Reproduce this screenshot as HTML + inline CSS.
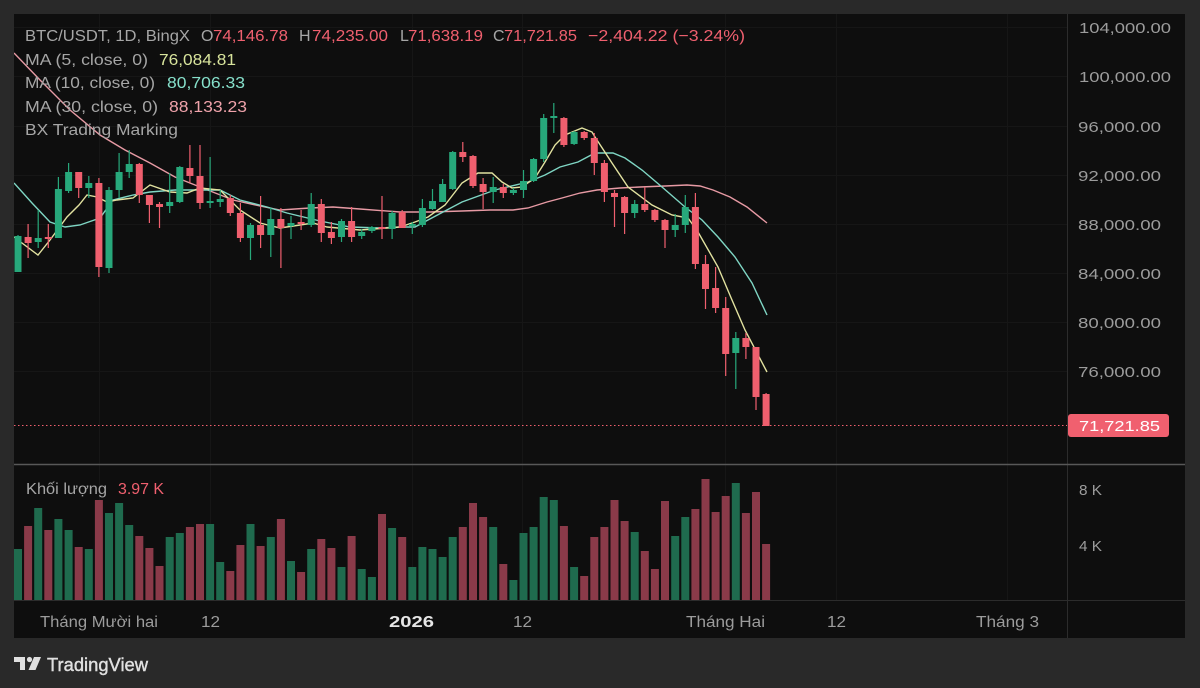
<!DOCTYPE html>
<html><head><meta charset="utf-8"><style>
html,body{margin:0;padding:0;background:#292929;}
svg{display:block;}
text{font-family:"Liberation Sans","Noto Sans CJK JP",sans-serif;}
</style></head><body>
<svg width="1200" height="688" viewBox="0 0 1200 688" xmlns="http://www.w3.org/2000/svg">
<rect x="0" y="0" width="1200" height="688" fill="#292929"/>
<rect x="14" y="14" width="1171" height="624" fill="#0e0e0e"/>
<defs><clipPath id="pc"><rect x="14" y="14" width="1053" height="450"/></clipPath>
<clipPath id="vc"><rect x="14" y="466" width="1053" height="134"/></clipPath></defs>
<!-- faint grid -->
<g stroke="#161616" stroke-width="1">
<path d="M99.5 14V600M210.5 14V600M412.5 14V600M522.5 14V600M725.5 14V600M836.5 14V600M1007.5 14V600"/>
<path d="M14 27.5H1067M14 76.5H1067M14 126.5H1067M14 175.5H1067M14 224.5H1067M14 273.5H1067M14 322.5H1067M14 371.5H1067"/>
</g>
<!-- axis separators -->
<line x1="1067.5" y1="14" x2="1067.5" y2="638" stroke="#2c2c2c" stroke-width="1"/>
<line x1="14" y1="600.5" x2="1185" y2="600.5" stroke="#2c2c2c" stroke-width="1"/>
<line x1="14" y1="464.5" x2="1185" y2="464.5" stroke="#585858" stroke-width="1.5"/>

<g clip-path="url(#pc)">
<!-- MA30 -->
<polyline fill="none" stroke="#e79aa4" stroke-width="1.4" points="14,53 40,80 70,110 100,135 125,150 150,163 175,177 200,187 233,200 260,206 280,210 310,208 333,207 360,209 400,212 430,212 462,211 490,210 513,210 528,208 547,202 562,198 580,193 597,190 620,188 640,187 665,186 687,185 700,186 713,190 730,197 747,207 767,223"/>
<!-- MA10 -->
<polyline fill="none" stroke="#7fd6c4" stroke-width="1.4" points="14,183 32,203 50,222 65,227 80,225 100,218 113,200 133,195 150,192 175,190 200,190 220,190 240,200 267,207 287,213 320,221 350,227 380,228 400,227 415,227 428,220 445,211 462,202 495,190 528,182 545,175 560,167 578,162 595,153 605,153 613,153 625,158 642,170 662,187 685,207 702,220 718,237 735,257 752,283 767,315"/>
<!-- MA5 -->
<polyline fill="none" stroke="#e2e2a0" stroke-width="1.4" points="14,237 38,255 50,240 67,217 79,205 87,195 97,197 107,202 117,200 133,198 150,185 170,192 187,193 200,188 220,190 240,210 260,223 280,228 300,225 313,223 327,227 360,230 387,228 400,227 415,222 428,217 445,205 462,183 478,173 492,173 502,182 512,188 522,187 535,178 545,162 555,145 565,135 582,128 592,132 595,137 612,163 628,187 652,205 672,215 688,218 698,232 718,267 732,300 745,330 767,372"/>

<!-- green candles -->
<path stroke="#27a87b" stroke-width="1.2" fill="none" d="M18 235V272M38.2 210V248M58.4 177V238M68.6 163V193M88.8 176V198M109 187V273M119.1 153V198M129.2 150V178M169.7 173V213M179.8 166V203M210.1 157V208M220.2 190V207M250.5 223V260M270.8 208V257M291 216V239M311.2 193V227M341.5 219V242M361.7 229V239M371.9 226V233M392.1 211V239M412.3 222V234M422.4 199V227M432.5 189V210M442.6 179V202M452.7 151V190M493.2 177V203M513.4 188V195M523.5 170V198M533.6 158V182M543.7 114V162M553.8 103V133M574.1 131V145M634.7 200V218M675.2 214V237M685.3 195V233M735.8 332V389"/>
<g fill="#27a87b">
<rect x="14.5" y="236" width="7" height="36"/><rect x="34.7" y="238" width="7" height="4"/><rect x="54.9" y="189" width="7" height="49"/><rect x="65.1" y="172" width="7" height="19"/><rect x="85.3" y="183" width="7" height="5"/><rect x="105.5" y="190" width="7" height="78"/><rect x="115.6" y="172" width="7" height="18"/><rect x="125.7" y="164" width="7" height="8"/><rect x="166.2" y="202" width="7" height="4"/><rect x="176.3" y="167" width="7" height="35"/><rect x="206.6" y="201" width="7" height="2"/><rect x="216.7" y="199" width="7" height="3"/><rect x="247" y="225" width="7" height="13"/><rect x="267.3" y="219" width="7" height="16"/><rect x="287.5" y="223" width="7" height="3"/><rect x="307.7" y="204" width="7" height="21"/><rect x="338" y="221" width="7" height="16"/><rect x="358.2" y="232" width="7" height="4"/><rect x="368.4" y="227" width="7" height="4"/><rect x="388.6" y="213" width="7" height="16"/><rect x="408.8" y="224" width="7" height="2"/><rect x="418.9" y="208" width="7" height="17"/><rect x="429" y="201" width="7" height="8"/><rect x="439.1" y="184" width="7" height="18"/><rect x="449.2" y="152" width="7" height="37"/><rect x="489.7" y="187" width="7" height="5"/><rect x="509.9" y="190" width="7" height="3"/><rect x="520" y="181" width="7" height="9"/><rect x="530.1" y="159" width="7" height="22"/><rect x="540.2" y="118" width="7" height="41"/><rect x="550.3" y="116" width="7" height="2"/><rect x="570.6" y="132" width="7" height="12"/><rect x="631.2" y="204" width="7" height="9"/><rect x="671.7" y="225" width="7" height="5"/><rect x="681.8" y="207" width="7" height="18"/><rect x="732.3" y="338" width="7" height="15"/>
</g>
<!-- red candles -->
<path stroke="#ef5f6e" stroke-width="1.2" fill="none" d="M28.1 224V258M48.3 224V248M78.7 172V198M98.9 178V277M139.3 163V203M149.4 195V223M159.5 202V228M189.9 145V183M200 145V209M230.3 195V216M240.4 203V242M260.6 196V248M280.9 208V268M301.1 210V230M321.3 199V242M331.4 222V244M351.6 207V242M382 196V239M402.2 210V228M462.8 142V162M473 155V188M483.1 178V209M503.3 184V198M563.9 117V147M584.2 131V140M594.3 133V175M604.4 160V202M614.5 190V227M624.6 196V234M644.8 187V212M654.9 209V222M665 219V248M695.4 193V269M705.5 255V309M715.6 267V313M725.7 297V376M745.9 333V359M756 347V410M766.1 393V426"/>
<g fill="#ef5f6e">
<rect x="24.6" y="237" width="7" height="6"/><rect x="44.8" y="237" width="7" height="2"/><rect x="75.2" y="172" width="7" height="16"/><rect x="95.4" y="183" width="7" height="84"/><rect x="135.8" y="164" width="7" height="31"/><rect x="145.9" y="195" width="7" height="10"/><rect x="156" y="204" width="7" height="3"/><rect x="186.4" y="168" width="7" height="8"/><rect x="196.5" y="176" width="7" height="27"/><rect x="226.8" y="198" width="7" height="15"/><rect x="236.9" y="213" width="7" height="25"/><rect x="257.1" y="225" width="7" height="10"/><rect x="277.4" y="219" width="7" height="9"/><rect x="297.6" y="222" width="7" height="2"/><rect x="317.8" y="204" width="7" height="29"/><rect x="327.9" y="232" width="7" height="6"/><rect x="348.1" y="221" width="7" height="16"/><rect x="378.5" y="227" width="7" height="2"/><rect x="398.7" y="212" width="7" height="16"/><rect x="459.3" y="152" width="7" height="5"/><rect x="469.5" y="156" width="7" height="30"/><rect x="479.6" y="184" width="7" height="8"/><rect x="499.8" y="187" width="7" height="6"/><rect x="560.4" y="118" width="7" height="27"/><rect x="580.7" y="132" width="7" height="6"/><rect x="590.8" y="138" width="7" height="25"/><rect x="600.9" y="163" width="7" height="29"/><rect x="611" y="193" width="7" height="4"/><rect x="621.1" y="197" width="7" height="16"/><rect x="641.3" y="204" width="7" height="6"/><rect x="651.4" y="210" width="7" height="10"/><rect x="661.5" y="220" width="7" height="10"/><rect x="691.9" y="207" width="7" height="57"/><rect x="702" y="264" width="7" height="25"/><rect x="712.1" y="288" width="7" height="20"/><rect x="722.2" y="308" width="7" height="46"/><rect x="742.4" y="338" width="7" height="9"/><rect x="752.5" y="347" width="7" height="50"/><rect x="762.6" y="394" width="7" height="32"/>
</g>
<!-- last price dotted line -->
<line x1="14" y1="425.5" x2="1067" y2="425.5" stroke="#ef5f6e" stroke-width="1" stroke-dasharray="1.5 2.5"/>
</g>

<!-- volume -->
<g clip-path="url(#vc)">
<g fill="#1f6b4e">
<rect x="14" y="549" width="8" height="51"/><rect x="34.2" y="508" width="8" height="92"/><rect x="54.4" y="519" width="8" height="81"/><rect x="64.6" y="530" width="8" height="70"/><rect x="84.8" y="549" width="8" height="51"/><rect x="105" y="513" width="8" height="87"/><rect x="115.1" y="503" width="8" height="97"/><rect x="125.2" y="525" width="8" height="75"/><rect x="165.7" y="537" width="8" height="63"/><rect x="175.8" y="533" width="8" height="67"/><rect x="206.1" y="524" width="8" height="76"/><rect x="216.2" y="562" width="8" height="38"/><rect x="246.5" y="524" width="8" height="76"/><rect x="266.8" y="537" width="8" height="63"/><rect x="287" y="561" width="8" height="39"/><rect x="307.2" y="549" width="8" height="51"/><rect x="337.5" y="567" width="8" height="33"/><rect x="357.7" y="569" width="8" height="31"/><rect x="367.9" y="577" width="8" height="23"/><rect x="388.1" y="528" width="8" height="72"/><rect x="408.3" y="567" width="8" height="33"/><rect x="418.4" y="547" width="8" height="53"/><rect x="428.5" y="549" width="8" height="51"/><rect x="438.6" y="557" width="8" height="43"/><rect x="448.7" y="537" width="8" height="63"/><rect x="489.2" y="527" width="8" height="73"/><rect x="509.4" y="580" width="8" height="20"/><rect x="519.5" y="533" width="8" height="67"/><rect x="529.6" y="527" width="8" height="73"/><rect x="539.7" y="497" width="8" height="103"/><rect x="549.8" y="500" width="8" height="100"/><rect x="570.1" y="567" width="8" height="33"/><rect x="630.7" y="532" width="8" height="68"/><rect x="671.2" y="536" width="8" height="64"/><rect x="681.3" y="517" width="8" height="83"/><rect x="731.8" y="483" width="8" height="117"/>
</g>
<g fill="#8a3a49">
<rect x="24.1" y="526" width="8" height="74"/><rect x="44.3" y="530" width="8" height="70"/><rect x="74.7" y="547" width="8" height="53"/><rect x="94.9" y="500" width="8" height="100"/><rect x="135.3" y="536" width="8" height="64"/><rect x="145.4" y="548" width="8" height="52"/><rect x="155.5" y="566" width="8" height="34"/><rect x="185.9" y="527" width="8" height="73"/><rect x="196" y="524" width="8" height="76"/><rect x="226.3" y="571" width="8" height="29"/><rect x="236.4" y="545" width="8" height="55"/><rect x="256.6" y="546" width="8" height="54"/><rect x="276.9" y="519" width="8" height="81"/><rect x="297.1" y="572" width="8" height="28"/><rect x="317.3" y="539" width="8" height="61"/><rect x="327.4" y="548" width="8" height="52"/><rect x="347.6" y="536" width="8" height="64"/><rect x="378" y="514" width="8" height="86"/><rect x="398.2" y="537" width="8" height="63"/><rect x="458.8" y="527" width="8" height="73"/><rect x="469" y="503" width="8" height="97"/><rect x="479.1" y="517" width="8" height="83"/><rect x="499.3" y="564" width="8" height="36"/><rect x="559.9" y="526" width="8" height="74"/><rect x="580.2" y="576" width="8" height="24"/><rect x="590.3" y="537" width="8" height="63"/><rect x="600.4" y="527" width="8" height="73"/><rect x="610.5" y="500" width="8" height="100"/><rect x="620.6" y="521" width="8" height="79"/><rect x="640.8" y="551" width="8" height="49"/><rect x="650.9" y="569" width="8" height="31"/><rect x="661" y="501" width="8" height="99"/><rect x="691.4" y="509" width="8" height="91"/><rect x="701.5" y="479" width="8" height="121"/><rect x="711.6" y="512" width="8" height="88"/><rect x="721.7" y="496" width="8" height="104"/><rect x="741.9" y="513" width="8" height="87"/><rect x="752" y="492" width="8" height="108"/><rect x="762.1" y="544" width="8" height="56"/>
</g>
</g>

<!-- header legend -->
<g font-size="16">
<text x="25" y="41" fill="#a6a6a6" textLength="165" lengthAdjust="spacingAndGlyphs">BTC/USDT, 1D, BingX</text>
<text x="201" y="41" fill="#a6a6a6">O</text>
<text x="213" y="41" fill="#f0606f" textLength="75" lengthAdjust="spacingAndGlyphs">74,146.78</text>
<text x="299" y="41" fill="#a6a6a6">H</text>
<text x="312" y="41" fill="#f0606f" textLength="76" lengthAdjust="spacingAndGlyphs">74,235.00</text>
<text x="400" y="41" fill="#a6a6a6">L</text>
<text x="408" y="41" fill="#f0606f" textLength="75" lengthAdjust="spacingAndGlyphs">71,638.19</text>
<text x="493" y="41" fill="#a6a6a6">C</text>
<text x="504" y="41" fill="#f0606f" textLength="73" lengthAdjust="spacingAndGlyphs">71,721.85</text>
<text x="588" y="41" fill="#f0606f" textLength="157" lengthAdjust="spacingAndGlyphs">−2,404.22 (−3.24%)</text>
<text x="25" y="65" fill="#a6a6a6" textLength="123" lengthAdjust="spacingAndGlyphs">MA (5, close, 0)</text>
<text x="159" y="65" fill="#d8e49c" textLength="77" lengthAdjust="spacingAndGlyphs">76,084.81</text>
<text x="25" y="88" fill="#a6a6a6" textLength="130" lengthAdjust="spacingAndGlyphs">MA (10, close, 0)</text>
<text x="167" y="88" fill="#86e0cb" textLength="78" lengthAdjust="spacingAndGlyphs">80,706.33</text>
<text x="25" y="112" fill="#a6a6a6" textLength="133" lengthAdjust="spacingAndGlyphs">MA (30, close, 0)</text>
<text x="169" y="112" fill="#f0a3ab" textLength="78" lengthAdjust="spacingAndGlyphs">88,133.23</text>
<text x="25" y="135" fill="#a6a6a6" textLength="153" lengthAdjust="spacingAndGlyphs">BX Trading Marking</text>
</g>

<!-- price axis -->
<g font-size="15" fill="#9c9c9c">
<text x="1079" y="33" textLength="92" lengthAdjust="spacingAndGlyphs">104,000.00</text>
<text x="1079" y="82" textLength="92" lengthAdjust="spacingAndGlyphs">100,000.00</text>
<text x="1078" y="132" textLength="83" lengthAdjust="spacingAndGlyphs">96,000.00</text>
<text x="1078" y="181" textLength="83" lengthAdjust="spacingAndGlyphs">92,000.00</text>
<text x="1078" y="230" textLength="83" lengthAdjust="spacingAndGlyphs">88,000.00</text>
<text x="1078" y="279" textLength="83" lengthAdjust="spacingAndGlyphs">84,000.00</text>
<text x="1078" y="328" textLength="83" lengthAdjust="spacingAndGlyphs">80,000.00</text>
<text x="1078" y="377" textLength="83" lengthAdjust="spacingAndGlyphs">76,000.00</text>
<text x="1079" y="495" textLength="23" lengthAdjust="spacingAndGlyphs">8 K</text>
<text x="1079" y="551" textLength="23" lengthAdjust="spacingAndGlyphs">4 K</text>
</g>
<rect x="1068" y="414" width="101" height="23" rx="3" fill="#f0606f"/>
<text x="1079" y="431" font-size="15" fill="#ffffff" textLength="81" lengthAdjust="spacingAndGlyphs">71,721.85</text>

<!-- volume legend -->
<text x="26" y="494" font-size="15.5" fill="#a6a6a6" textLength="81" lengthAdjust="spacingAndGlyphs">Khối lượng</text>
<text x="118" y="494" font-size="15.5" fill="#f0606f" textLength="46" lengthAdjust="spacingAndGlyphs">3.97 K</text>

<!-- time axis -->
<g font-size="15.5" fill="#9c9c9c">
<text x="40" y="627" textLength="118" lengthAdjust="spacingAndGlyphs">Tháng Mười hai</text>
<text x="201" y="627" textLength="19" lengthAdjust="spacingAndGlyphs">12</text>
<text x="389" y="627" fill="#e6e6e6" font-weight="bold" textLength="45" lengthAdjust="spacingAndGlyphs">2026</text>
<text x="513" y="627" textLength="19" lengthAdjust="spacingAndGlyphs">12</text>
<text x="686" y="627" textLength="79" lengthAdjust="spacingAndGlyphs">Tháng Hai</text>
<text x="827" y="627" textLength="19" lengthAdjust="spacingAndGlyphs">12</text>
<text x="976" y="627" textLength="63" lengthAdjust="spacingAndGlyphs">Tháng 3</text>
</g>

<!-- TradingView logo -->
<g fill="#e0e0e0">
<path d="M14 657H25V670H20V662H14Z"/>
<circle cx="29.5" cy="659.5" r="2.6"/>
<path d="M34 657H41L35.5 670H28.5Z"/>
</g>
<text x="47" y="671" font-size="18" fill="#e0e0e0" stroke="#e0e0e0" stroke-width="0.4" textLength="101" lengthAdjust="spacingAndGlyphs">TradingView</text>
</svg>
</body></html>
